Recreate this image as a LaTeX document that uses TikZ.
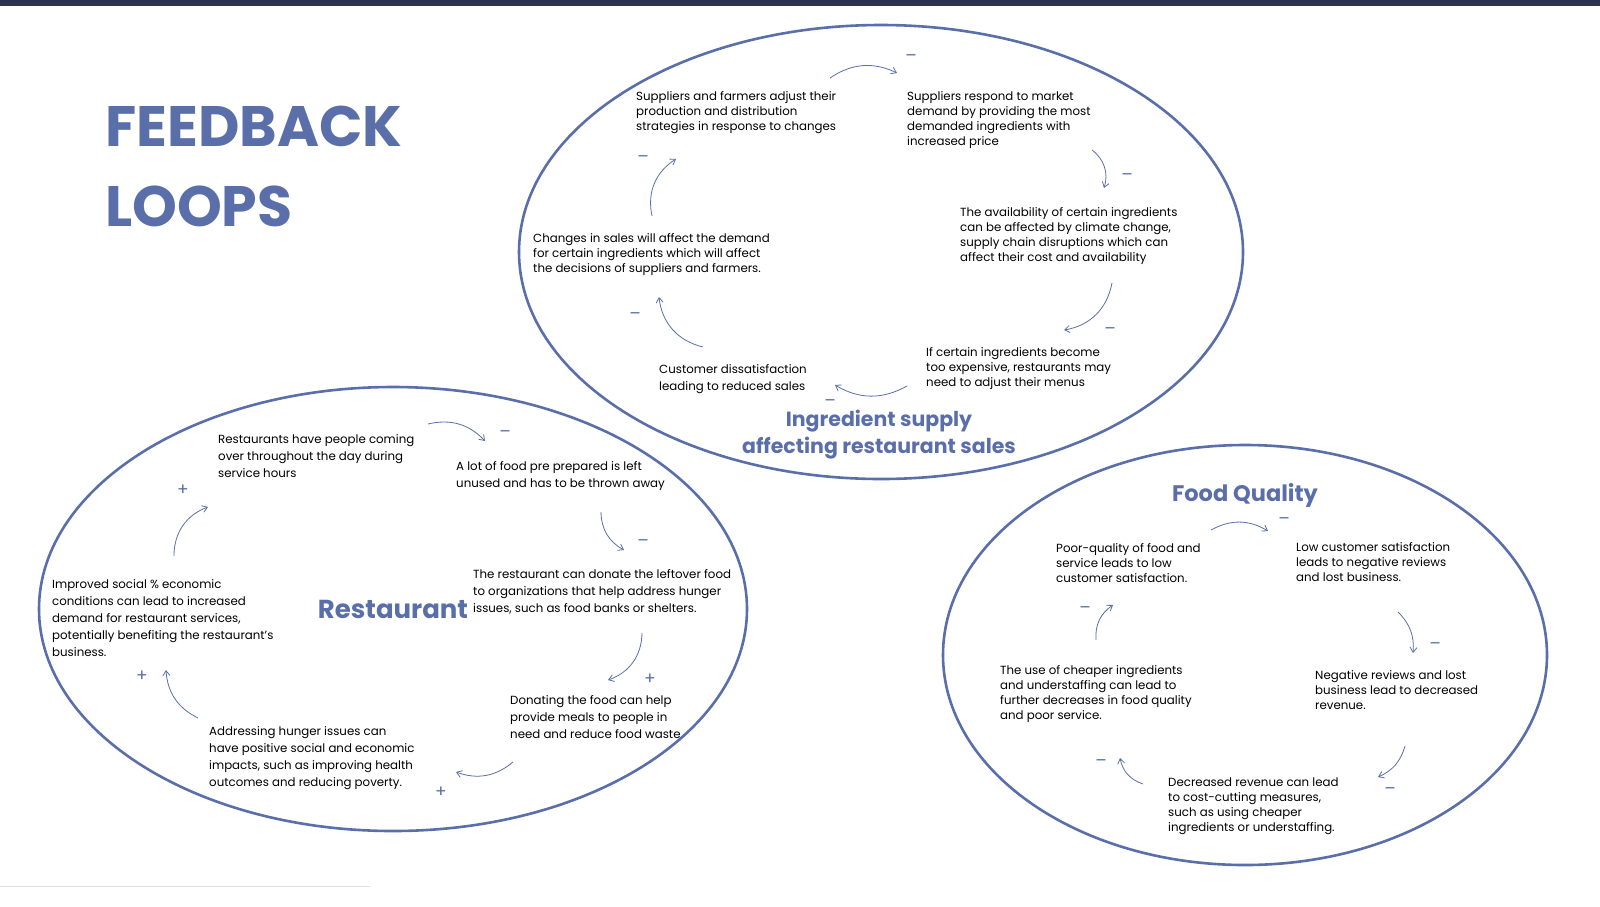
\documentclass[tikz,border=0pt]{standalone}
\usepackage{fontspec}
\setmainfont{Poppins}
\usetikzlibrary{arrows.meta}
\definecolor{fb}{HTML}{5A6FAA}
\definecolor{navy}{HTML}{2B3350}
\begin{document}
\begin{tikzpicture}[x=1pt,y=-1pt,
  txt/.style={anchor=north west,inner sep=0pt,align=left,font=\fontsize{11.8}{15}\selectfont},
  txtb/.style={txt,font=\fontsize{11.8}{17}\selectfont},
  ell/.style={draw=fb,line width=2.6pt},
  arr/.style={draw=fb,line width=0.8pt,-{Straight Barb[length=5pt,width=7pt]}},
  sgn/.style={text=fb,inner sep=0pt,font=\fontsize{17}{17}\selectfont},
  ttl/.style={text=fb,inner sep=0pt,align=center,font=\bfseries\fontsize{20.5}{27}\selectfont}]
\useasboundingbox (0,0) rectangle (1600,906);
\fill[white] (0,0) rectangle (1600,906);
\fill[navy] (0,0) rectangle (1600,6);
\draw[black!12,line width=1pt] (0,886) -- (370,886);
% title
\node[anchor=north west,inner sep=0pt,text=fb,align=left,font=\bfseries\fontsize{57}{80}\selectfont] (title) at (105,106) {FEEDBACK\\LOOPS};
% ellipses
\draw[ell] (881,252) ellipse [x radius=362,y radius=227];
\draw[ell] (393,609) ellipse [x radius=354,y radius=222];
\draw[ell] (1245,655) ellipse [x radius=302,y radius=210];
% top texts
\node[txt] (t1) at (636,91) {Suppliers and farmers adjust their\\production and distribution\\strategies in response to changes};
\node[txt] (t2) at (907,91) {Suppliers respond to market\\demand by providing the most\\demanded ingredients with\\increased price};
\node[txt] (t3) at (960,207) {The availability of certain ingredients\\can be affected by climate change,\\supply chain disruptions which can\\affect their cost and availability};
\node[txt] (t4) at (926,347) {If certain ingredients become\\too expensive, restaurants may\\need to adjust their menus};
\node[txtb] (t5) at (659,364) {Customer dissatisfaction\\leading to reduced sales};
\node[txt] (t6) at (533,233) {Changes in sales will affect the demand\\for certain ingredients which will affect\\the decisions of suppliers and farmers.};
\node[ttl] (lt) at (879,435) {Ingredient supply\\affecting restaurant sales};
% top arrows
\coordinate (a1s) at (830,78); \coordinate (a1e) at (897,73);
\draw[arr] (a1s) to[bend left=30] (a1e);
\coordinate (a2s) at (1092,150); \coordinate (a2e) at (1104,188);
\draw[arr] (a2s) to[bend left=35] (a2e);
\coordinate (a3s) at (1112,283); \coordinate (a3e) at (1064,330);
\draw[arr] (a3s) to[bend left=35] (a3e);
\coordinate (a4s) at (907,386); \coordinate (a4e) at (835,385);
\draw[arr] (a4s) to[bend left=30] (a4e);
\coordinate (a5s) at (703,347); \coordinate (a5e) at (659,297);
\draw[arr] (a5s) to[bend left=35] (a5e);
\coordinate (a6s) at (652,216); \coordinate (a6e) at (676,159);
\draw[arr] (a6s) to[bend left=35] (a6e);
\node[sgn] (s1) at (911,58) {–};
\node[sgn] (s2) at (1127,177) {–};
\node[sgn] (s3) at (1110,331) {–};
\node[sgn] (s4) at (830,403) {–};
\node[sgn] (s5) at (635,316) {–};
\node[sgn] (s6) at (643,159) {–};
% left texts
\node[txtb] (l1) at (218,434) {Restaurants have people coming\\over throughout the day during\\service hours};
\node[txtb] (l2) at (456,461) {A lot of food pre prepared is left\\unused and has to be thrown away};
\node[txtb] (l3) at (473,569) {The restaurant can donate the leftover food\\to organizations that help address hunger\\issues, such as food banks or shelters.};
\node[txtb] (l4) at (510,695) {Donating the food can help\\provide meals to people in\\need and reduce food waste};
\node[txtb] (l5) at (209,726) {Addressing hunger issues can\\have positive social and economic\\impacts, such as improving health\\outcomes and reducing poverty.};
\node[txtb] (l6) at (52,579) {Improved social \% economic\\conditions can lead to increased\\demand for restaurant services,\\potentially benefiting the restaurant's\\business.};
\node[text=fb,inner sep=0pt,font=\bfseries\fontsize{26}{28}\selectfont] (lr) at (393,609) {Restaurant};
\coordinate (b1s) at (428,424); \coordinate (b1e) at (485,441);
\draw[arr] (b1s) to[bend left=30] (b1e);
\coordinate (b2s) at (601,512); \coordinate (b2e) at (624,550);
\draw[arr] (b2s) to[bend right=30] (b2e);
\coordinate (b3s) at (642,633); \coordinate (b3e) at (608,680);
\draw[arr] (b3s) to[bend left=35] (b3e);
\coordinate (b4s) at (513,762); \coordinate (b4e) at (456,772);
\draw[arr] (b4s) to[bend left=30] (b4e);
\coordinate (b5s) at (198,718); \coordinate (b5e) at (166,670);
\draw[arr] (b5s) to[bend left=30] (b5e);
\coordinate (b6s) at (174,556); \coordinate (b6e) at (208,507);
\draw[arr] (b6s) to[bend left=35] (b6e);
\node[sgn] (p1) at (505,434) {–};
\node[sgn] (p2) at (643,543) {–};
\node[sgn] (p3) at (650,679) {+};
\node[sgn] (p4) at (441,792) {+};
\node[sgn] (p5) at (142,676) {+};
\node[sgn] (p6) at (183,490) {+};
% right texts
\node[text=fb,inner sep=0pt,font=\bfseries\fontsize{22.5}{25}\selectfont] (fq) at (1245,495) {Food Quality};
\node[txt] (r1) at (1056,543) {Poor-quality of food and\\service leads to low\\customer satisfaction.};
\node[txt] (r2) at (1296,542) {Low customer satisfaction\\leads to negative reviews\\and lost business.};
\node[txt] (r3) at (1315,670) {Negative reviews and lost\\business lead to decreased\\revenue.};
\node[txt] (r4) at (1168,778) {Decreased revenue can lead\\to cost-cutting measures,\\such as using cheaper\\ingredients or understaffing.};
\node[txt] (r5) at (1000,665) {The use of cheaper ingredients\\and understaffing can lead to\\further decreases in food quality\\and poor service.};
\coordinate (c1s) at (1211,530); \coordinate (c1e) at (1268,531);
\draw[arr] (c1s) to[bend left=30] (c1e);
\coordinate (c2s) at (1398,612); \coordinate (c2e) at (1413,653);
\draw[arr] (c2s) to[bend left=25] (c2e);
\coordinate (c3s) at (1405,746) ; \coordinate (c3e) at (1378,777);
\draw[arr] (c3s) to[bend left=25] (c3e);
\coordinate (c4s) at (1143,784); \coordinate (c4e) at (1120,758);
\draw[arr] (c4s) to[bend left=30] (c4e);
\coordinate (c5s) at (1096,640); \coordinate (c5e) at (1113,605);
\draw[arr] (c5s) to[bend left=30] (c5e);
\node[sgn] (q1) at (1284,521) {–};
\node[sgn] (q2) at (1435,646) {–};
\node[sgn] (q3) at (1390,791) {–};
\node[sgn] (q4) at (1101,763) {–};
\node[sgn] (q5) at (1085,610) {–};
\end{tikzpicture}
\end{document}
